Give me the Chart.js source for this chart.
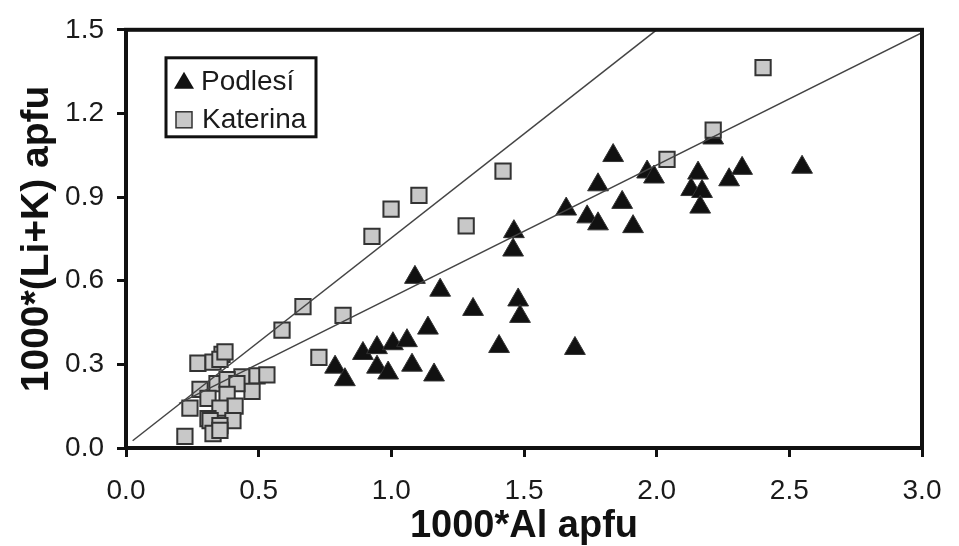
<!DOCTYPE html>
<html>
<head>
<meta charset="utf-8">
<script src="https://cdn.jsdelivr.net/npm/chart.js@4.4.1/dist/chart.umd.min.js"></script>
<style>
  body { margin: 0; background: #fff; }
  #wrap { width: 959px; height: 546px; }
</style>
</head>
<body>
<div id="wrap"><canvas id="alChart" width="959" height="546"></canvas></div>
<script>
// Podlesi (triangles)
const podlesiX = [1.089, 1.184, 1.308, 1.138, 1.478, 1.485, 1.406, 1.462, 1.459, 0.788,
    0.825, 0.893, 0.946, 1.006, 1.059, 0.946, 0.988, 1.078, 1.161, 1.836,
    1.779, 1.659, 1.738, 1.779, 1.870, 1.911, 1.964, 1.990, 2.156, 2.130,
    2.171, 2.164, 2.273, 2.322, 2.548, 1.692, 2.213];
const podlesiY = [0.612, 0.566, 0.497, 0.430, 0.531, 0.472, 0.364, 0.776, 0.710, 0.290,
    0.245, 0.339, 0.360, 0.374, 0.385, 0.290, 0.269, 0.297, 0.262, 1.049,
    0.944, 0.857, 0.829, 0.804, 0.881, 0.794, 0.990, 0.972, 0.986, 0.927,
    0.920, 0.864, 0.962, 1.003, 1.007, 0.357, 1.112];

// Katerina (squares)
const katerinaX = [2.401, 2.213, 2.039, 1.421, 1.104, 0.999, 0.927, 1.282, 0.667, 0.818,
    0.727, 0.588, 0.271, 0.328, 0.362, 0.354, 0.437, 0.494, 0.531, 0.475,
    0.279, 0.343, 0.381, 0.418, 0.309, 0.381, 0.411, 0.241, 0.354, 0.309,
    0.317, 0.403, 0.354, 0.328, 0.222, 0.354, 0.373];
const katerinaY = [1.364, 1.140, 1.035, 0.993, 0.906, 0.857, 0.759, 0.797, 0.507, 0.476,
    0.325, 0.423, 0.304, 0.308, 0.336, 0.318, 0.255, 0.259, 0.262, 0.203,
    0.210, 0.231, 0.245, 0.231, 0.178, 0.192, 0.150, 0.143, 0.143, 0.105,
    0.098, 0.098, 0.080, 0.052, 0.042, 0.063, 0.345];

// trend lines (end points)
const steepLineX = [0.025, 2.0];
const steepLineY = [0.026, 1.5];
const fitLineX = [0.2, 3.0];
const fitLineY = [0.16, 1.49];

const xTicks = [0, 0.5, 1.0, 1.5, 2.0, 2.5, 3.0];
const yTicks = [0, 0.3, 0.6, 0.9, 1.2, 1.5];

function toPoints(xs, ys) {
    return xs.map((x, i) => ({ x: x, y: ys[i] }));
}

Chart.defaults.font.family = "'Liberation Sans', Arial, sans-serif";
Chart.defaults.color = "#1a1a1a";

// frame around the plot + legend box inside it
const framePlugin = {
    id: "frame",
    afterDraw(chart) {
        const ctx = chart.ctx;
        const a = chart.chartArea;
        ctx.save();
        ctx.strokeStyle = "#111";
        ctx.lineWidth = 4;
        ctx.strokeRect(a.left, a.top, a.right - a.left, a.bottom - a.top);

        // legend
        const lx = a.left + 40, ly = a.top + 28;
        ctx.lineWidth = 3;
        ctx.strokeRect(lx, ly, 150, 79);

        ctx.fillStyle = "#111";
        ctx.beginPath();
        ctx.moveTo(lx + 18, ly + 14);
        ctx.lineTo(lx + 28, ly + 31);
        ctx.lineTo(lx + 8, ly + 31);
        ctx.closePath();
        ctx.fill();

        ctx.fillStyle = "#c8c8c8";
        ctx.fillRect(lx + 10, ly + 54, 16, 16);
        ctx.strokeStyle = "#333";
        ctx.lineWidth = 1.5;
        ctx.strokeRect(lx + 10, ly + 54, 16, 16);

        ctx.fillStyle = "#1a1a1a";
        ctx.font = "28px 'Liberation Sans', Arial, sans-serif";
        ctx.textBaseline = "alphabetic";
        ctx.textAlign = "left";
        ctx.fillText("Podlesí", lx + 35, ly + 32);
        ctx.fillText("Katerina", lx + 36, ly + 70);
        ctx.restore();
    }
};

new Chart(document.getElementById("alChart"), {
    type: "scatter",
    data: {
        datasets: [
            {
                label: "steep",
                data: toPoints(steepLineX, steepLineY),
                showLine: true,
                borderColor: "#444",
                borderWidth: 1.5,
                pointRadius: 0,
                order: 0
            },
            {
                label: "fit",
                data: toPoints(fitLineX, fitLineY),
                showLine: true,
                borderColor: "#444",
                borderWidth: 1.5,
                pointRadius: 0,
                order: 0
            },
            {
                label: "Katerina",
                data: toPoints(katerinaX, katerinaY),
                pointStyle: "rect",
                pointRadius: 10.8,
                backgroundColor: "#c8c8c8",
                borderColor: "#333",
                borderWidth: 2,
                clip: false,
                order: 1
            },
            {
                label: "Podlesí",
                data: toPoints(podlesiX, podlesiY),
                pointStyle: "triangle",
                pointRadius: 12,
                backgroundColor: "#111",
                borderColor: "#333",
                borderWidth: 1,
                clip: false,
                order: 2
            }
        ]
    },
    options: {
        responsive: false,
        animation: false,
        events: [],
        layout: { padding: { left: 0, right: 37, top: 19, bottom: 0 } },
        plugins: {
            legend: { display: false },
            tooltip: { enabled: false }
        },
        scales: {
            x: {
                type: "linear",
                min: 0,
                max: 3,
                afterFit: function (scale) { scale.height = 98; },
                afterBuildTicks: function (scale) {
                    scale.ticks = xTicks.map(v => ({ value: v }));
                },
                ticks: {
                    padding: 17,
                    font: { size: 28 },
                    color: "#1a1a1a",
                    callback: v => v.toFixed(1)
                },
                grid: { drawOnChartArea: false, drawTicks: true, tickLength: 9, lineWidth: 3, color: "#111" },
                border: { display: false },
                title: {
                    display: true,
                    text: "1000*Al apfu",
                    font: { size: 38, weight: "bold", lineHeight: 1 },
                    padding: 0,
                    color: "#111"
                }
            },
            y: {
                type: "linear",
                min: 0,
                max: 1.5,
                afterFit: function (scale) { scale.width = 126; },
                afterBuildTicks: function (scale) {
                    scale.ticks = yTicks.map(v => ({ value: v }));
                },
                ticks: {
                    padding: 13,
                    font: { size: 28 },
                    color: "#1a1a1a",
                    callback: v => v.toFixed(1)
                },
                grid: { drawOnChartArea: false, drawTicks: true, tickLength: 9, lineWidth: 3, color: "#111" },
                border: { display: false },
                title: {
                    display: true,
                    text: "1000*(Li+K) apfu",
                    font: { size: 39, weight: "bold", lineHeight: 1 },
                    padding: { top: 18, bottom: 0 },
                    color: "#111"
                }
            }
        }
    },
    plugins: [framePlugin]
});
</script>
</body>
</html>
